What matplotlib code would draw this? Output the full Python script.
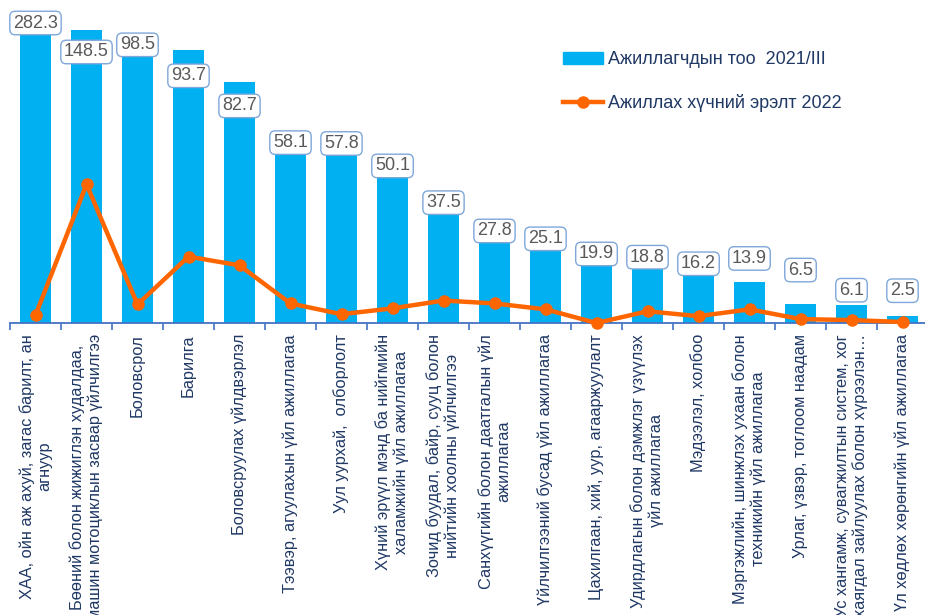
import numpy as np
import matplotlib.pyplot as plt
from matplotlib.patches import Patch
from matplotlib.lines import Line2D

plt.rcParams['font.family'] = ['Liberation Sans', 'DejaVu Sans']

# sectors (tick labels)
sectors = [
    "ХАА, ойн аж ахуй, загас барилт, ан\nагнуур",
    "Бөөний болон жижиглэн худалдаа,\nмашин мотоциклын засвар үйлчилгээ",
    "Боловсрол",
    "Барилга",
    "Боловсруулах үйлдвэрлэл",
    "Тээвэр, агуулахын үйл ажиллагаа",
    "Уул уурхай,  олборлолт",
    "Хүний эрүүл мэнд ба нийгмийн\nхаламжийн үйл ажиллагаа",
    "Зочид буудал, байр, сууц болон\nнийтийн хоолны үйлчилгээ",
    "Санхүүгийн болон даатгалын үйл\nажиллагаа",
    "Үйлчилгээний бусад үйл ажиллагаа",
    "Цахилгаан, хий, уур, агааржуулалт",
    "Удирдлагын болон дэмжлэг үзүүлэх\nүйл ажиллагаа",
    "Мэдээлэл, холбоо",
    "Мэргэжлийн, шинжлэх ухаан болон\nтехникийн үйл ажиллагаа",
    "Урлаг, үзвэр, тоглоом наадам",
    "Ус хангамж, сувагжилтын систем, хог\nхаягдал зайлуулах болон хүрээлэн…",
    "Үл хөдлөх хөрөнгийн үйл ажиллагаа",
]
# employed, thousand (2021/III)
employed = [282.3, 148.5, 98.5, 93.7, 82.7, 58.1, 57.8, 50.1, 37.5,
            27.8, 25.1, 19.9, 18.8, 16.2, 13.9, 6.5, 6.1, 2.5]
# labour demand 2022
demand = [0.8, 14.2, 1.9, 6.8, 5.9, 2.0, 0.9, 1.5, 2.3,
          2.0, 1.4, 0.0, 1.2, 0.7, 1.4, 0.4, 0.3, 0.1]

# label shift from bar top in pixels (+ = down), to mimic manual placement
label_shift = [-7, 22, 9, 26, 24, -11, -11, -11, -11,
               -11, -11, -11, -11, -12, -24, -34, -15, -25]

BLUE = '#00B0F0'
ORANGE = '#FF6600'
NAVY = '#1F3864'
AXBLUE = '#4472C4'
YMAX = 100.5

fig = plt.figure(figsize=(9.25, 6.15), dpi=100)
ax = fig.add_axes([10/925, 292/615, 918/925, 293/615])
x = np.arange(len(sectors))

bars = ax.bar(x, employed, width=0.62, color=BLUE, zorder=2)
ax.set_ylim(0, YMAX)
ax.set_xlim(-0.5, len(sectors) - 0.5)

for i, v in enumerate(employed):
    ax.annotate(f"{v:.1f}", xy=(i, min(v, YMAX)), xytext=(0, -label_shift[i]*0.72),
                textcoords='offset points', ha='center', va='center',
                fontsize=13, color='#595959', annotation_clip=False, zorder=5,
                bbox=dict(boxstyle='round,pad=0.18,rounding_size=0.3', fc='white',
                          ec='#7FA7D9', lw=1.0))

for s in ['top', 'right', 'left']:
    ax.spines[s].set_visible(False)
ax.spines['bottom'].set_color(AXBLUE)
ax.spines['bottom'].set_linewidth(1.3)
ax.set_yticks([])
ax.set_xticks(x)
ax.set_xticklabels(sectors, rotation=90, va='top', ha='center',
                   multialignment='center', fontsize=11.8, color=NAVY)
ax.tick_params(axis='x', which='major', length=0, pad=8)
ax.set_xticks(np.arange(len(sectors) + 1) - 0.5, minor=True)
ax.tick_params(axis='x', which='minor', length=5, width=1.2, color=AXBLUE)

ax2 = ax.twinx()
ax2.set_ylim(0, 30)
ax2.plot(x, demand, color=ORANGE, lw=3.2, marker='o', ms=8, clip_on=False, zorder=4)
ax2.axis('off')

handles = [Patch(color=BLUE, label='Ажиллагчдын тоо  2021/III'),
           Line2D([], [], color=ORANGE, lw=3.2, marker='o', ms=8,
                  label='Ажиллах хүчний эрэлт 2022')]
fig.legend(handles=handles, loc='upper left', bbox_to_anchor=(547/925, 1 - 35/615),
           frameon=False, fontsize=13, labelcolor=NAVY, handlelength=2.2,
           handletextpad=0.3, labelspacing=1.45)

fig.savefig('out.png', dpi=100)
